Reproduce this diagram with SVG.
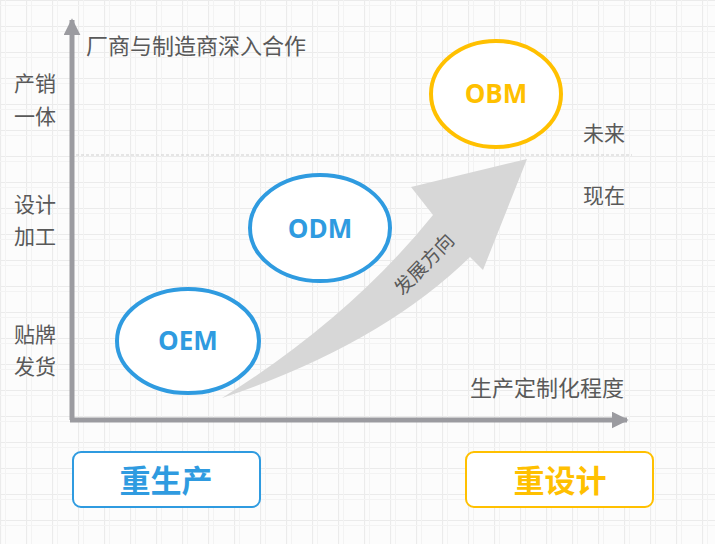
<svg xmlns="http://www.w3.org/2000/svg" width="715" height="544" viewBox="0 0 715 544">
<defs>
<pattern id="grid" width="26" height="26" patternUnits="userSpaceOnUse">
<rect width="26" height="26" fill="#fcfcfc"/>
<path d="M0.5 0V26M0 0.5H26" stroke="#ebebeb" stroke-width="1.2" fill="none"/>
<path d="M5.5 0V26M0 5.5H26" stroke="#f3f3f3" stroke-width="1" fill="none"/>
</pattern>
<marker id="ah" viewBox="0 0 10 10" refX="9" refY="5" markerWidth="3.4" markerHeight="3.4" orient="auto" markerUnits="strokeWidth">
<path d="M0 0L10 5L0 10Z" fill="#9b9ba0"/>
</marker>
<style>
.lbl{font-family:"Noto Sans CJK SC","Noto Sans",sans-serif;font-size:21px;fill:#595959}
.node{fill:#fff;stroke-width:4}
.blue{stroke:#2f9be0}
.gold{stroke:#ffc000}
.nt{font-family:"Open Sans","Liberation Sans",sans-serif;font-weight:700;font-size:26px;text-anchor:middle}
.bt{font-family:"Noto Sans CJK SC",sans-serif;font-weight:700;font-size:31px;text-anchor:middle}
.axis{stroke:#9b9ba0;stroke-width:5;fill:none}
</style>
</defs>
<rect width="715" height="544" fill="url(#grid)"/>
<line x1="76" y1="155" x2="632" y2="155" stroke="#cfcfcf" stroke-width="1" stroke-dasharray="3 2"/>

<g id="connectors">
<path class="axis" d="M72 420V20" marker-end="url(#ah)"/>
<path class="axis" d="M70 420H627" marker-end="url(#ah)"/>
<path id="growth-arrow" d="M222 398Q350 318 433 215L411 187L527 159L483 270L470 257Q380 345 222 398Z" fill="#d7d7d7"/>
<text class="lbl" x="0" y="0" style="font-size:19px" text-anchor="middle" transform="translate(429 269) rotate(-46)">发展方向</text>
</g>

<text class="lbl" x="86" y="54" style="font-size:22px">厂商与制造商深入合作</text>
<text class="lbl" x="14" y="91">产销</text>
<text class="lbl" x="14" y="124">一体</text>
<text class="lbl" x="14" y="212">设计</text>
<text class="lbl" x="14" y="244">加工</text>
<text class="lbl" x="14" y="342">贴牌</text>
<text class="lbl" x="14" y="374">发货</text>
<text class="lbl" x="583" y="141">未来</text>
<text class="lbl" x="583" y="203">现在</text>
<text class="lbl" x="470" y="396" style="font-size:22px">生产定制化程度</text>

<g id="oem">
<ellipse class="node blue" cx="188" cy="341" rx="71" ry="52"/>
<text class="nt" x="188" y="350" fill="#2f9be0">OEM</text>
</g>
<g id="odm">
<ellipse class="node blue" cx="320" cy="228" rx="70" ry="53"/>
<text class="nt" x="320" y="238" fill="#2f9be0">ODM</text>
</g>
<g id="obm">
<ellipse class="node gold" cx="496" cy="94" rx="65" ry="53"/>
<text class="nt" x="496" y="103" fill="#ffc000">OBM</text>
</g>
<g id="box-production">
<rect x="73" y="452" width="187" height="55" rx="8" fill="#fff" stroke="#2f9be0" stroke-width="2"/>
<text class="bt" x="166" y="492" fill="#2f9be0">重生产</text>
</g>
<g id="box-design">
<rect x="466" y="452" width="187" height="55" rx="8" fill="#fff" stroke="#ffc000" stroke-width="2"/>
<text class="bt" x="560" y="492" fill="#ffc000">重设计</text>
</g>
</svg>
